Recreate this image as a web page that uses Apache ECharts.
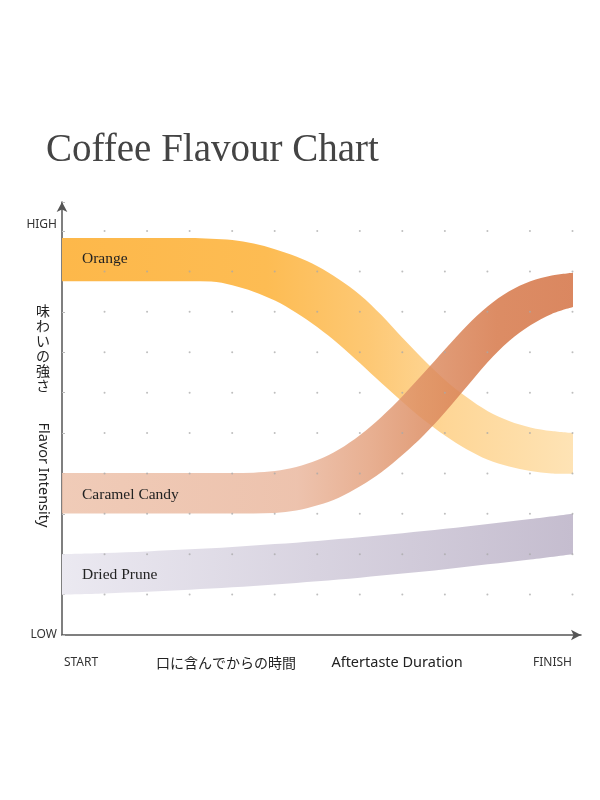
<!DOCTYPE html>
<html>
<head>
<meta charset="utf-8">
<script src="https://cdn.jsdelivr.net/npm/echarts@6/dist/echarts.min.js"></script>
<style>
  html, body { margin: 0; padding: 0; background: #fff; }
  #chart { width: 600px; height: 800px; }
</style>
</head>
<body>
<div id="chart"></div>
<script>
// ---- data ----
var xsCurve = [0, 0.5, 1, 1.5, 2, 2.5, 3, 3.5, 4, 4.5, 5, 5.5, 6, 6.5, 7, 7.5, 8, 8.5, 9, 9.5, 10, 10.5, 11, 11.5, 12];
var orangeTop    = [9.83, 9.83, 9.83, 9.83, 9.83, 9.83, 9.83, 9.81, 9.78, 9.69, 9.55, 9.37, 9.13, 8.81, 8.42, 7.92, 7.35, 6.81, 6.31, 5.89, 5.54, 5.30, 5.14, 5.05, 5.0];
var orangeBottom = [8.76, 8.76, 8.76, 8.76, 8.76, 8.76, 8.76, 8.75, 8.66, 8.50, 8.28, 7.98, 7.62, 7.20, 6.73, 6.24, 5.77, 5.32, 4.93, 4.60, 4.34, 4.17, 4.06, 4.0, 3.99];
var caramelTop    = [4.01, 4.01, 4.01, 4.01, 4.01, 4.01, 4.01, 4.01, 4.01, 4.02, 4.06, 4.16, 4.33, 4.59, 4.95, 5.40, 5.92, 6.49, 7.08, 7.65, 8.14, 8.51, 8.76, 8.90, 8.97];
var caramelBottom = [3.01, 3.01, 3.01, 3.01, 3.01, 3.01, 3.01, 3.01, 3.01, 3.01, 3.02, 3.08, 3.21, 3.40, 3.68, 4.03, 4.46, 4.95, 5.52, 6.14, 6.76, 7.28, 7.67, 7.95, 8.12];
var xsPrune = [0, 1, 2, 3, 4, 5, 6, 7, 8, 9, 10, 11, 12];
var pruneTop    = [2.0, 2.03, 2.07, 2.12, 2.18, 2.25, 2.33, 2.42, 2.52, 2.63, 2.75, 2.87, 3.0];
var pruneBottom = [1.0, 1.03, 1.07, 1.12, 1.18, 1.25, 1.33, 1.42, 1.52, 1.63, 1.75, 1.87, 2.0];
var gridXTicks = [1, 2, 3, 4, 5, 6, 7, 8, 9, 10, 11, 12];
var gridYTicks = [1, 2, 3, 4, 5, 6, 7, 8, 9, 10];
var xTickLabels = { 0: 'START', 12: 'FINISH' };
var yTickLabels = { 0: 'LOW', 10: 'HIGH' };
var seriesNames = ['Orange', 'Caramel Candy', 'Dried Prune'];

// ---- build ----
var categories = xsCurve.map(function (x) { return String(x); });
function pairs(xs, ys) { return xs.map(function (x, i) { return [String(x), ys[i]]; }); }
function diffPairs(xs, top, bottom) {
  return xs.map(function (x, i) { return [String(x), +(top[i] - bottom[i]).toFixed(4)]; });
}
var dots = [];
gridXTicks.forEach(function (x) { gridYTicks.forEach(function (y) { dots.push([x, y]); }); });

function grad(stops) {
  return new echarts.graphic.LinearGradient(0, 0, 1, 0, stops.map(function (s) { return { offset: s[0], color: s[1] }; }));
}

var SMOOTH = 0.34;
function band(name, xs, top, bottom, colorStops, opacity) {
  return [
    {
      name: name + '-base', type: 'line', stack: name, smooth: SMOOTH,
      xAxisIndex: 0, yAxisIndex: 0,
      data: pairs(xs, bottom), symbol: 'none', silent: true,
      lineStyle: { width: 0, opacity: 0 }, z: 2
    },
    {
      name: name, type: 'line', stack: name, smooth: SMOOTH,
      xAxisIndex: 0, yAxisIndex: 0,
      data: diffPairs(xs, top, bottom), symbol: 'none', silent: true,
      lineStyle: { width: 0, opacity: 0 },
      areaStyle: { color: grad(colorStops), opacity: opacity }, z: 3
    }
  ];
}

var series = [].concat(
  band(seriesNames[2], xsPrune, pruneTop, pruneBottom,
    [[0, '#EBE9F1'], [1, '#C5BDCF']], 1),
  band(seriesNames[0], xsCurve, orangeTop, orangeBottom,
    [[0, '#FDB84A'], [0.4, '#FDBC53'], [0.6, '#FDC874'], [0.75, '#FED696'], [1, '#FEE3B5']], 1),
  band(seriesNames[1], xsCurve, caramelTop, caramelBottom,
    [[0, '#EDC2AB'], [0.46, '#EAB89F'], [0.6, '#E4A27F'], [0.7, '#DD8F65'], [0.85, '#D67849'], [1, '#D47244']], 0.85),
  [{
    type: 'scatter', data: dots, symbol: 'circle', symbolSize: 2, silent: true,
    xAxisIndex: 1, yAxisIndex: 1,
    itemStyle: { color: '#a8a8a8', opacity: 0.75 }, z: 5
  }]
);

var chart = echarts.init(document.getElementById('chart'), null, { renderer: 'canvas' });
var sans = '"Noto Sans", "Open Sans", sans-serif';
var serif = '"Liberation Serif", "DejaVu Serif", serif';

chart.setOption({
  animation: false,
  backgroundColor: '#ffffff',
  title: {
    text: 'Coffee Flavour Chart',
    left: 41, top: 126,
    textStyle: { fontFamily: serif, fontSize: 39, fontWeight: 'normal', color: '#444' }
  },
  grid: [
    { left: 62, width: 511, top: 202, height: 433, outerBoundsMode: 'none', containLabel: false },
    { left: 62, width: 519, top: 202, height: 433, outerBoundsMode: 'none', containLabel: false }
  ],
  xAxis: [
    {
      gridIndex: 0, type: 'category', data: categories, boundaryGap: false,
      axisLine: { show: false }, axisTick: { show: false }, axisLabel: { show: false }, splitLine: { show: false }
    },
    {
      gridIndex: 1, type: 'value', min: 0, max: 12.2, interval: 12,
      splitLine: { show: false },
      axisTick: { show: false },
      axisLine: { show: true, symbol: ['none', 'arrow'], symbolSize: [8, 10], lineStyle: { color: '#555', width: 1.5 } },
      axisLabel: {
        margin: 22,
        formatter: function (v) {
          if (v === 0) return '{s|' + xTickLabels[0] + '}';
          if (v === 12) return '{f|' + xTickLabels[12] + '}';
          return '';
        },
        rich: {
          s: { fontFamily: sans, fontSize: 12, color: '#333', padding: [0, 0, 0, 38] },
          f: { fontFamily: sans, fontSize: 12, color: '#333', padding: [0, 40, 0, 0] }
        }
      }
    }
  ],
  yAxis: [
    {
      gridIndex: 0, type: 'value', min: 0, max: 10.72,
      axisLine: { show: false }, axisTick: { show: false }, axisLabel: { show: false }, splitLine: { show: false }
    },
    {
      gridIndex: 1, type: 'value', min: 0, max: 10.72, interval: 1,
      splitLine: { show: false },
      axisTick: { show: true, inside: true, length: 3, lineStyle: { color: '#bbb' } },
      axisLine: { show: true, symbol: ['none', 'arrow'], symbolSize: [8, 10], lineStyle: { color: '#555', width: 1.5 } },
      axisLabel: {
        margin: 5,
        formatter: function (v) {
          if (v === 0) return '{lo|' + yTickLabels[0] + '}';
          if (v === 10) return '{hi|' + yTickLabels[10] + '}';
          return '';
        },
        rich: {
          lo: { fontFamily: sans, fontSize: 12, color: '#333' },
          hi: { fontFamily: sans, fontSize: 12, color: '#333', padding: [0, 0, 14, 0] }
        }
      }
    }
  ],
  graphic: [
    { type: 'text', z: 100, left: 82, top: 251, style: { text: seriesNames[0], font: '15.5px ' + serif, fill: '#222' } },
    { type: 'text', z: 100, left: 82, top: 487, style: { text: seriesNames[1], font: '15.5px ' + serif, fill: '#222' } },
    { type: 'text', z: 100, left: 82, top: 567, style: { text: seriesNames[2], font: '15.5px ' + serif, fill: '#222' } },
    { type: 'text', z: 100, x: 43, y: 348, style: { text: '味\nわ\nい\nの\n強\nさ', font: '14px "Noto Sans CJK JP"', fill: '#222', align: 'center', verticalAlign: 'middle', lineHeight: 15 } },
    { type: 'text', z: 100, x: 43, y: 475, rotation: -Math.PI / 2, style: { text: 'Flavor Intensity', font: '14.5px ' + sans, fill: '#222', align: 'center', verticalAlign: 'middle' } },
    { type: 'text', z: 100, x: 226, y: 663, style: { text: '口に含んでからの時間', font: '14px "Noto Sans CJK JP"', fill: '#222', align: 'center', verticalAlign: 'middle' } },
    { type: 'text', z: 100, x: 397, y: 663, style: { text: 'Aftertaste Duration', font: '14.5px ' + sans, fill: '#222', align: 'center', verticalAlign: 'middle' } }
  ],
  series: series
});
</script>
</body>
</html>
